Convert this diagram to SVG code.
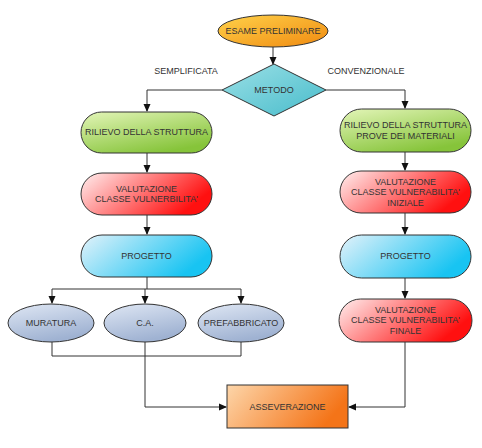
<svg xmlns="http://www.w3.org/2000/svg" width="482" height="448" viewBox="0 0 482 448">
<defs>
<linearGradient id="gOrange" x1="0" y1="0" x2="1" y2="1"><stop offset="0" stop-color="#ffd24a"/><stop offset="1" stop-color="#f08a10"/></linearGradient>
<linearGradient id="gDiamond" x1="0" y1="0" x2="1" y2="1"><stop offset="0" stop-color="#9be0e6"/><stop offset="1" stop-color="#48bccb"/></linearGradient>
<linearGradient id="gGreen" x1="0" y1="0" x2="0.6" y2="1"><stop offset="0" stop-color="#e3f5b8"/><stop offset="1" stop-color="#86c43a"/></linearGradient>
<linearGradient id="gRed" x1="0" y1="0" x2="1" y2="0.4"><stop offset="0" stop-color="#fff0f0"/><stop offset="1" stop-color="#ff1010"/></linearGradient>
<linearGradient id="gBlue" x1="0" y1="0" x2="1" y2="0.4"><stop offset="0" stop-color="#e4f2fa"/><stop offset="1" stop-color="#18c4f2"/></linearGradient>
<linearGradient id="gLav" x1="0" y1="0" x2="0.4" y2="1"><stop offset="0" stop-color="#dfe7f4"/><stop offset="1" stop-color="#9fb2d2"/></linearGradient>
<linearGradient id="gAss" x1="0" y1="0" x2="1" y2="0.3"><stop offset="0" stop-color="#fdd6aa"/><stop offset="1" stop-color="#f47418"/></linearGradient>
<marker id="arr" markerWidth="8" markerHeight="8" refX="7" refY="4" orient="auto" markerUnits="userSpaceOnUse"><path d="M0,0.5 L8,4 L0,7.5 Z" fill="#111"/></marker>
</defs>
<style>
.n{stroke:#333;stroke-width:1}
.t{font-family:"Liberation Sans",Arial,sans-serif;font-size:9px;text-anchor:middle;fill:#333}
.c{fill:none;stroke:#333;stroke-width:1}
</style>
<g id="connectors">
<path class="c" d="M273,47 V64" marker-end="url(#arr)"/>
<path class="c" d="M222,90 H147 V111" marker-end="url(#arr)"/>
<path class="c" d="M326,90 H405 V108" marker-end="url(#arr)"/>
<path class="c" d="M147,153 V172" marker-end="url(#arr)"/>
<path class="c" d="M147,215 V234" marker-end="url(#arr)"/>
<path class="c" d="M405,152 V170" marker-end="url(#arr)"/>
<path class="c" d="M405,213 V234" marker-end="url(#arr)"/>
<path class="c" d="M405,278 V298" marker-end="url(#arr)"/>
<path class="c" d="M147,277 V289"/>
<path class="c" d="M52,289 H241"/>
<path class="c" d="M52,289 V303" marker-end="url(#arr)"/>
<path class="c" d="M145,289 V303" marker-end="url(#arr)"/>
<path class="c" d="M241,289 V303" marker-end="url(#arr)"/>
<path class="c" d="M52,342 V356 H241 V342"/>
<path class="c" d="M145,342 V407 H226" marker-end="url(#arr)"/>
<path class="c" d="M405,342 V407 H349" marker-end="url(#arr)"/>
<text class="t" x="186" y="74">SEMPLIFICATA</text>
<text class="t" x="366" y="74">CONVENZIONALE</text>
</g>
<g id="esame"><ellipse class="n" cx="273" cy="31" rx="55" ry="16" fill="url(#gOrange)"/><text class="t" x="273" y="34">ESAME PRELIMINARE</text></g>
<g id="metodo"><polygon class="n" points="274,64 326,90 274,116 222,90" fill="url(#gDiamond)"/><text class="t" x="274" y="93">METODO</text></g>
<g id="rilievo-s"><rect class="n" x="81" y="112" width="131" height="41" rx="20.5" fill="url(#gGreen)"/><text class="t" x="146.5" y="135">RILIEVO DELLA STRUTTURA</text></g>
<g id="valutazione-s"><rect class="n" x="81" y="173" width="131" height="42" rx="21" fill="url(#gRed)"/><text class="t" x="146.5" y="192">VALUTAZIONE</text><text class="t" x="146.5" y="202">CLASSE VULNERBILITA'</text></g>
<g id="progetto-s"><rect class="n" x="81" y="235" width="131" height="42" rx="21" fill="url(#gBlue)"/><text class="t" x="146.5" y="259">PROGETTO</text></g>
<g id="rilievo-c"><rect class="n" x="340" y="109" width="131" height="43" rx="21.5" fill="url(#gGreen)"/><text class="t" x="405.5" y="128">RILIEVO DELLA STRUTTURA</text><text class="t" x="405.5" y="139">PROVE DEI MATERIALI</text></g>
<g id="valutazione-i"><rect class="n" x="340" y="171" width="131" height="42" rx="21" fill="url(#gRed)"/><text class="t" x="405.5" y="185">VALUTAZIONE</text><text class="t" x="405.5" y="195">CLASSE VULNERABILITA'</text><text class="t" x="405.5" y="206">INIZIALE</text></g>
<g id="progetto-c"><rect class="n" x="340" y="235" width="131" height="43" rx="21.5" fill="url(#gBlue)"/><text class="t" x="405.5" y="259">PROGETTO</text></g>
<g id="valutazione-f"><rect class="n" x="339" y="299" width="133" height="43" rx="21.5" fill="url(#gRed)"/><text class="t" x="405.5" y="313">VALUTAZIONE</text><text class="t" x="405.5" y="323">CLASSE VULNERABILITA'</text><text class="t" x="405.5" y="334">FINALE</text></g>
<g id="muratura"><ellipse class="n" cx="51" cy="323" rx="43" ry="19" fill="url(#gLav)"/><text class="t" x="51" y="326">MURATURA</text></g>
<g id="ca"><ellipse class="n" cx="145" cy="323" rx="41" ry="19" fill="url(#gLav)"/><text class="t" x="145" y="326">C.A.</text></g>
<g id="prefabbricato"><ellipse class="n" cx="241" cy="323" rx="43" ry="19" fill="url(#gLav)"/><text class="t" x="241" y="326">PREFABBRICATO</text></g>
<g id="asseverazione"><rect class="n" x="227" y="385" width="121" height="43" fill="url(#gAss)"/><text class="t" x="287.5" y="410">ASSEVERAZIONE</text></g>
</svg>
